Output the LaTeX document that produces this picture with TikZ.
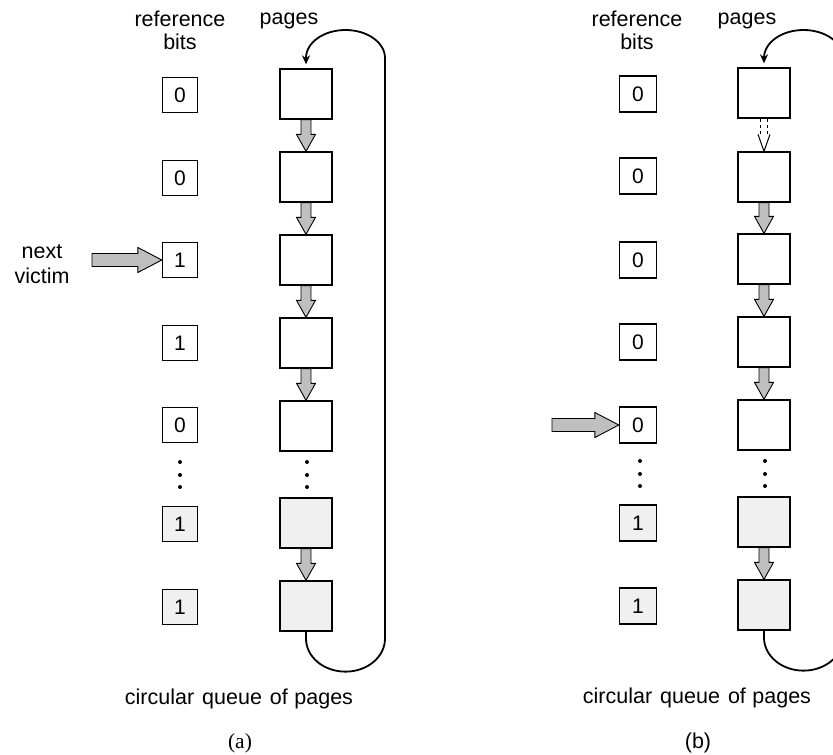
\documentclass[tikz,border=0pt]{standalone}
\usepackage{fontspec}
\setmainfont{Liberation Sans}
\newfontfamily\serifa{Liberation Serif}
\usetikzlibrary{calc,arrows.meta}
\tikzset{
  lbl/.style={font=\fontsize{21.5}{25}\selectfont, anchor=base, inner sep=0pt},
  bitbox/.style={draw, line width=1.3pt, minimum width=35pt, minimum height=35pt, inner sep=0pt, font=\fontsize{21}{21}\selectfont},
  pagebox/.style={draw, line width=1.3pt, minimum width=52pt, minimum height=50pt, inner sep=0pt},
  stip/.style={fill=gray!12},
  fatarr/.style={draw, line width=0.9pt, fill=gray!50, line join=miter},
  loopline/.style={line width=1.8pt},
  dotmark/.style={fill=black},
}
\newcommand{\vfat}[2]{%
  \draw[fatarr] ($(#1.south)+(-5,0)$) -- ($(#2.north)+(-5,-17)$) -- ($(#2.north)+(-9.5,-17)$) -- (#2.north) -- ($(#2.north)+(9.5,-17)$) -- ($(#2.north)+(5,-17)$) -- ($(#1.south)+(5,0)$) -- cycle;}
\newcommand{\hfat}[2]{%
  \draw[fatarr] ($(#1)+(0,-6.5)$) -- ($(#2.west)+(-24,-6.5)$) -- ($(#2.west)+(-24,-12.5)$) -- (#2.west) -- ($(#2.west)+(-24,12.5)$) -- ($(#2.west)+(-24,6.5)$) -- ($(#1)+(0,6.5)$) -- cycle;}
\newcommand{\captext}{circular\hspace{8pt}queue\hspace{8pt}of\hspace{6.5pt}pages}
\begin{document}
\begin{tikzpicture}[x=1pt,y=-1pt]
\path[use as bounding box] (0,0) rectangle (833,755);
\clip (0,0) rectangle (833,755);

% ---------------- panel (a) ----------------
\node[lbl] (ta1) at (180,26) {reference};
\node[lbl] (ta2) at (180,49) {bits};
\node[lbl] (ta3) at (289,24) {pages};

\node[bitbox] (ra1) at (180,95) {0};
\node[bitbox] (ra2) at (180,178) {0};
\node[bitbox] (ra3) at (180,260) {1};
\node[bitbox] (ra4) at (180,343) {1};
\node[bitbox] (ra5) at (180,425) {0};
\node[bitbox,stip] (ra6) at (180,524) {1};
\node[bitbox,stip] (ra7) at (180,607) {1};

\node[pagebox] (pa1) at (306,94) {};
\node[pagebox] (pa2) at (306,177) {};
\node[pagebox] (pa3) at (306,260) {};
\node[pagebox] (pa4) at (306,343) {};
\node[pagebox] (pa5) at (306,426) {};
\node[pagebox,stip] (pa6) at (306,523) {};
\node[pagebox,stip] (pa7) at (306,606) {};

\vfat{pa1}{pa2}
\vfat{pa2}{pa3}
\vfat{pa3}{pa4}
\vfat{pa4}{pa5}
\vfat{pa6}{pa7}

\foreach \yy in {462,475,487}{
  \fill[dotmark] (180,\yy) circle[radius=2];
  \fill[dotmark] (307,\yy) circle[radius=2];
}

\draw[loopline, -{Stealth[length=9pt,width=8pt]}, shorten >=4pt]
  (pa7.south) -- ($(pa7.south)+(0,7)$)
  arc[start angle=180, end angle=0, x radius=39.5, y radius=33]
  -- (385,58)
  arc[start angle=0, end angle=-180, x radius=39.5, y radius=28]
  -- (pa1.north);

\node[lbl] (na1) at (42,258) {next};
\node[lbl] (na2) at (42,283) {victim};
\coordinate (va) at (92,260);
\hfat{va}{ra3}

\node[lbl] (ca) at (239,704) {\captext};
\node[lbl,font=\serifa\fontsize{21.5}{25}\selectfont] (la) at (240,748) {(a)};

% ---------------- panel (b) ----------------
\node[lbl] (tb1) at (637,26) {reference};
\node[lbl] (tb2) at (637,49) {bits};
\node[lbl] (tb3) at (747,24) {pages};

\node[bitbox,minimum width=37pt,minimum height=36pt] (rb1) at (638,94) {0};
\node[bitbox,minimum width=37pt,minimum height=36pt] (rb2) at (638,176) {0};
\node[bitbox,minimum width=37pt,minimum height=36pt] (rb3) at (638,260) {0};
\node[bitbox,minimum width=37pt,minimum height=36pt] (rb4) at (638,342) {0};
\node[bitbox,minimum width=37pt,minimum height=36pt] (rb5) at (638,425) {0};
\node[bitbox,stip,minimum width=37pt,minimum height=36pt] (rb6) at (638,523) {1};
\node[bitbox,stip,minimum width=37pt,minimum height=36pt] (rb7) at (638,606) {1};

\node[pagebox] (pb1) at (764,93) {};
\node[pagebox] (pb2) at (764,177) {};
\node[pagebox] (pb3) at (764,259) {};
\node[pagebox] (pb4) at (764,342) {};
\node[pagebox] (pb5) at (764,425) {};
\node[pagebox,stip] (pb6) at (764,522) {};
\node[pagebox,stip] (pb7) at (764,605) {};

% cleared pointer between first two pages
\draw[line width=0.6pt, dashed] ($(pb1.south)+(-3.5,0)$) -- ($(pb2.north)+(-3.5,-16)$);
\draw[line width=0.6pt, dashed] ($(pb1.south)+(3.5,0)$) -- ($(pb2.north)+(3.5,-16)$);
\draw[line width=1pt] ($(pb2.north)+(-6,-17)$) -- (pb2.north) -- ($(pb2.north)+(6,-17)$);

\vfat{pb2}{pb3}
\vfat{pb3}{pb4}
\vfat{pb4}{pb5}
\vfat{pb6}{pb7}

\foreach \yy in {461,474,486}{
  \fill[dotmark] (640,\yy) circle[radius=2];
  \fill[dotmark] (765,\yy) circle[radius=2];
}

\draw[loopline, -{Stealth[length=9pt,width=8pt]}, shorten >=4pt]
  (pb7.south) -- ($(pb7.south)+(0,7)$)
  arc[start angle=180, end angle=0, x radius=39.5, y radius=33]
  -- (843,58)
  arc[start angle=0, end angle=-180, x radius=39.5, y radius=28]
  -- (pb1.north);

\coordinate (vb) at (552,425);
\hfat{vb}{rb5}

\node[lbl] (cb) at (697,703) {\captext};
\node[lbl] (lb) at (698,748) {(b)};
\end{tikzpicture}
\end{document}
